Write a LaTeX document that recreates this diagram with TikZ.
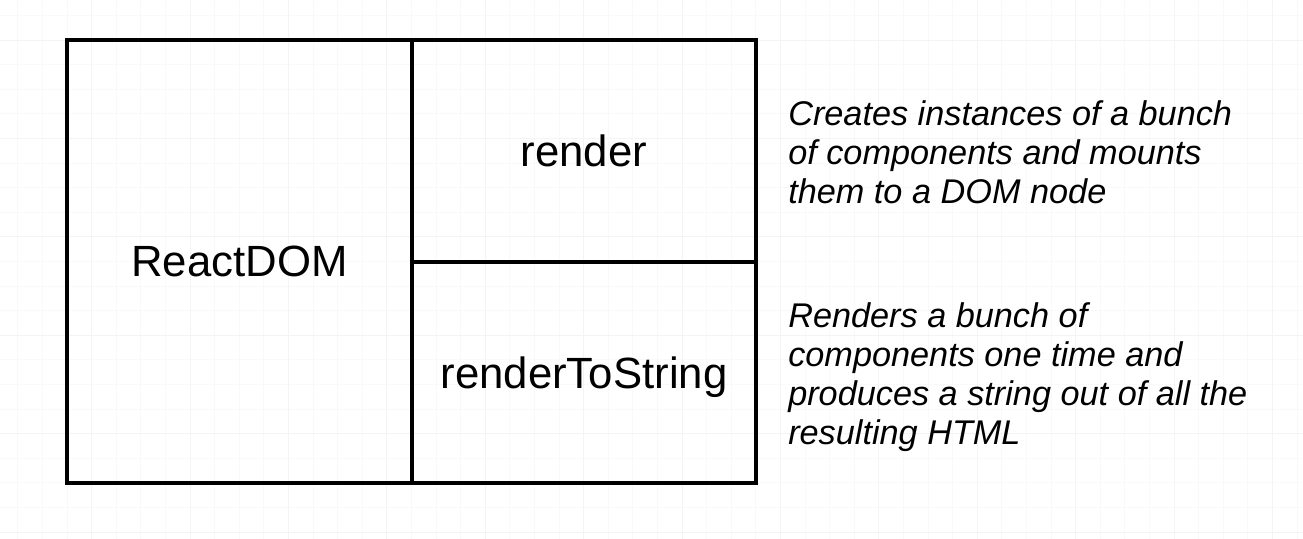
\documentclass[tikz,border=0pt]{standalone}
\usepackage{fontspec}
\setmainfont{Liberation Sans}
\tikzset{
  part/.style={draw, line width=3pt, inner sep=0pt, text depth=0pt,
    font=\fontsize{32.8}{38}\selectfont},
  note/.style={anchor=north west, inner sep=0pt, align=left,
    font=\fontsize{25.7}{29.3}\selectfont\itshape}
}
\begin{document}
\begin{tikzpicture}[x=0.75pt, y=-0.75pt]
      \useasboundingbox (0,0) rectangle (1303,539);
      % background grid
      \foreach \i in {-2,...,50} \draw[gray!5, line width=0.6pt] ({67+24.6*\i},0) -- ({67+24.6*\i},539);
      \foreach \j in {-1,...,21} \draw[gray!5, line width=0.6pt] (0,{40+24.6*\j}) -- (1303,{40+24.6*\j});
      \foreach \i in {-1,...,12} \draw[gray!9, line width=0.7pt] ({91.6+98.4*\i},0) -- ({91.6+98.4*\i},539);
      \foreach \j in {-1,...,5} \draw[gray!9, line width=0.7pt] (0,{40+98.4*\j}) -- (1303,{40+98.4*\j});

      \node[part, minimum width=258.75pt, minimum height=332.25pt] (reactdom) at (239.5, 261.5){ReactDOM};
      \node[part, minimum width=258pt, minimum height=166.5pt] (render) at (584, 151){render};
      \node[part, minimum width=258pt, minimum height=165.75pt] (tostring) at (584, 372.5){renderToString};

      \node[note] (rendernote) at (788, 100){Creates instances of a bunch\\of components and mounts\\them to a DOM node};
      \node[note] (stringnote) at (788, 302){Renders a bunch of\\components one time and\\produces a string out of all the\\resulting HTML};
    \end{tikzpicture}
\end{document}
